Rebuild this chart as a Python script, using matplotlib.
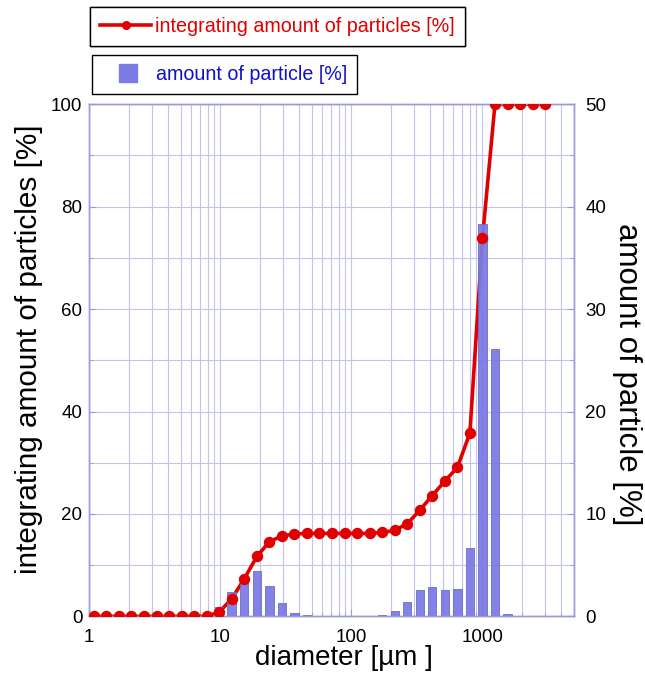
import numpy as np
import matplotlib
matplotlib.use("Agg")
import matplotlib.pyplot as plt
from matplotlib.lines import Line2D

plt.rcParams['font.family'] = ['Liberation Sans', 'DejaVu Sans']

# particle size bins [um]
diameter = [1.08, 1.35, 1.68, 2.10, 2.61, 3.26, 4.06, 5.06, 6.31, 7.86,
            9.80, 12.2, 15.2, 19.0, 23.7, 29.5, 36.8, 45.8, 57.1, 71.2,
            88.8, 110.6, 138, 172, 214, 267, 332, 414, 516, 644,
            802, 1000, 1246, 1554, 1937, 2414, 3010]

# amount of particle [%] per bin
amount = [0, 0, 0, 0, 0, 0, 0, 0, 0, 0,
          0.89, 2.39, 3.66, 4.44, 2.97, 1.31, 0.36, 0.14, 0, 0,
          0, 0, 0, 0.1, 0.5, 1.43, 2.6, 2.9, 2.58, 2.7,
          6.65, 38.3, 26.1, 0.2, 0, 0, 0]

# integrating amount of particles [%]
integ = [0, 0, 0, 0, 0, 0, 0, 0, 0, 0,
         0.86, 3.4, 7.3, 11.7, 14.6, 15.7, 16.1, 16.2, 16.2, 16.2,
         16.2, 16.2, 16.2, 16.4, 16.8, 18.1, 20.7, 23.6, 26.4, 29.1,
         35.8, 73.8, 100, 100, 100, 100, 100]

red = '#e00000'
barcol = '#7b7be6'
gridcol = '#c3c3ef'
spinecol = '#9a9ade'

fig = plt.figure(figsize=(6.45, 6.77), dpi=100)
ax = fig.add_axes([0.1384, 0.0895, 0.7516, 0.7565])
ax2 = ax.twinx()

d = np.array(diameter)
f = 1.076
ax.plot(d, integ, color=red, lw=2.6, zorder=2)
ax2.bar(d / f, amount, width=d * f - d / f, align='edge', color=barcol,
        edgecolor='#6a6ab8', linewidth=0.6, alpha=0.95, zorder=2)
ax2.plot(d, integ, ls='none', marker='o', ms=7.2, color=red,
         transform=ax.transData, zorder=3)

ax.set_xscale('log')
ax.set_xlim(1, 5000)
ax.set_ylim(0, 100)
ax2.set_ylim(0, 50)

ax.set_yticks(np.arange(0, 101, 20))
ax.set_yticks(np.arange(0, 101, 10), minor=True)
ax2.set_yticks(np.arange(0, 51, 10))
ax2.set_yticks(np.arange(0, 51, 5), minor=True)
ax.set_xticks([1, 10, 100, 1000])
ax.set_xticklabels(['1', '10', '100', '1000'])

ax.grid(True, which='both', color=gridcol, lw=0.8)
ax.set_axisbelow(True)

for a in (ax, ax2):
    for s in a.spines.values():
        s.set_color(spinecol)
        s.set_linewidth(1.0)
    a.tick_params(which='both', direction='in', color=spinecol, labelsize=13.5,
                  pad=8)
    a.tick_params(which='major', length=5)
    a.tick_params(which='minor', length=3)
ax.tick_params(axis='x', which='minor', labelbottom=False)
ax.tick_params(axis='x', pad=9)
ax.tick_params(axis='y', pad=5)

ax.set_xlabel('diameter [µm ]', fontsize=20, labelpad=-1)
ax.xaxis.label.set_x(0.5255)
ax.set_ylabel('integrating amount of particles [%]', fontsize=21.4, labelpad=6)
ax.yaxis.label.set_y(0.522)
ax2.set_ylabel('amount of particle [%]', fontsize=22.5, rotation=270, labelpad=26)
ax2.yaxis.label.set_y(0.473)

h1 = Line2D([], [], color=red, lw=2.6, marker='o', ms=5.5)
leg1 = fig.legend(handles=[h1], labels=['integrating amount of particles [%]'],
                  loc='upper left', bbox_to_anchor=(90 / 645, 1 - 7 / 677),
                  fontsize=14.2, labelcolor=red, fancybox=False, framealpha=1,
                  edgecolor='black', handlelength=2.6, handletextpad=0.2,
                  borderpad=0.5, borderaxespad=0)
leg1.get_frame().set_linewidth(1.0)
h2 = Line2D([], [], ls='none', marker='s', ms=13.5, color=barcol)
leg2 = fig.legend(handles=[h2], labels=['amount of particle [%]'],
                  loc='upper left', bbox_to_anchor=(92 / 645, 1 - 55 / 677),
                  fontsize=14.2, labelcolor='#1010c8', fancybox=False, framealpha=1,
                  edgecolor='black', handlelength=2.6, handletextpad=0.15,
                  borderpad=0.5, borderaxespad=0)
leg2.get_frame().set_linewidth(1.0)
fig.add_artist(leg1)

fig.savefig('out.png', dpi=100)
